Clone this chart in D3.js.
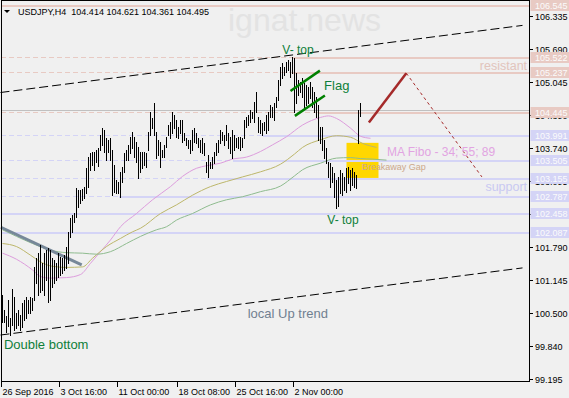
<!DOCTYPE html>
<html>
<head>
<meta charset="utf-8">
<script src="https://cdn.jsdelivr.net/npm/d3@7"></script>
<style>
    html, body { margin: 0; padding: 0; background: #f0f0f0; }
    svg { display: block; font-family: "Liberation Sans", Arial, sans-serif; }
    .axisText { font-size: 9px; }
</style>
</head>
<body>
<script>
'use strict';

// USDJPY H4 bars (one per bar, oldest first)
const barHigh = [
    100.85, 100.55, 100.43, 100.75, 100.39, 100.97, 100.81, 100.49, 100.55, 100.45,
    100.69, 100.75, 100.81, 100.75, 100.81, 100.79, 101.40, 101.57, 101.67, 101.83,
    101.48, 101.67, 101.73, 101.77, 101.73, 101.57, 101.54, 101.48, 101.67, 101.59,
    101.57, 101.63, 101.79, 102.09, 102.36, 102.42, 102.46, 102.95, 102.91, 102.91,
    102.93, 102.97, 103.35, 103.56, 103.64, 103.66, 103.66, 103.70, 103.74, 104.00,
    104.13, 104.09, 103.94, 103.90, 103.94, 103.70, 103.40, 103.11, 103.07, 103.27,
    103.37, 103.64, 103.70, 103.80, 103.96, 104.05, 103.96, 103.86, 103.76, 103.66,
    103.66, 103.66, 103.64, 104.05, 104.45, 104.33, 104.62, 104.05, 103.90, 103.86,
    103.70, 103.80, 103.96, 104.19, 104.25, 104.45, 104.39, 104.29, 104.15, 104.29,
    104.29, 104.03, 103.94, 103.90, 103.90, 104.09, 104.13, 104.03, 103.94, 103.90,
    103.94, 103.84, 103.46, 103.60, 103.46, 103.56, 103.66, 103.84, 103.90, 104.09,
    104.05, 104.00, 104.19, 104.03, 103.96, 104.09, 104.00, 103.94, 103.96, 103.96,
    103.94, 104.29, 104.35, 104.39, 104.49, 104.45, 104.64, 104.84, 104.35, 104.29,
    104.23, 104.25, 104.39, 104.45, 104.59, 104.55, 104.62, 104.74, 105.08, 105.33,
    105.41, 105.33, 105.43, 105.47, 105.43, 105.53, 105.51, 105.21, 105.08, 105.04,
    105.12, 105.02, 104.98, 104.94, 105.04, 104.94, 104.84, 104.74, 104.59, 104.15,
    104.15, 103.90, 103.74, 103.46, 103.44, 103.37, 103.25, 103.11, 103.17, 103.31,
    103.25, 103.17, 103.35, 103.37, 103.31, 103.35, 103.27, 103.21, 104.49, 104.621
];
const barLow = [
    100.32, 100.32, 100.12, 100.24, 100.06, 100.26, 100.16, 100.20, 100.26, 100.16,
    100.22, 100.36, 100.39, 100.49, 100.49, 100.55, 100.75, 101.08, 100.85, 100.91,
    100.95, 100.85, 101.14, 100.71, 100.75, 101.00, 101.08, 101.14, 101.20, 101.24,
    101.28, 101.34, 101.38, 101.48, 101.99, 102.09, 102.28, 102.38, 102.58, 102.66,
    102.72, 102.76, 102.85, 102.97, 103.31, 103.40, 103.31, 103.46, 103.38, 103.70,
    103.80, 103.66, 103.50, 103.66, 103.50, 102.81, 102.87, 102.85, 102.85, 102.78,
    103.07, 103.27, 103.50, 103.50, 103.64, 103.74, 103.56, 103.46, 103.15, 103.27,
    103.35, 103.40, 103.37, 103.70, 104.00, 104.13, 104.00, 103.54, 103.60, 103.37,
    103.56, 103.56, 103.76, 104.00, 103.94, 104.03, 104.13, 103.96, 103.94, 104.03,
    103.86, 103.90, 103.80, 103.74, 103.64, 103.70, 103.86, 103.84, 103.76, 103.66,
    103.64, 103.60, 103.27, 103.17, 103.35, 103.35, 103.44, 103.60, 103.66, 103.84,
    103.90, 103.80, 103.90, 103.74, 103.64, 103.54, 103.70, 103.76, 103.74, 103.70,
    103.76, 103.94, 104.15, 104.19, 104.25, 104.33, 104.25, 104.45, 104.05, 104.03,
    104.00, 104.09, 104.03, 104.09, 104.35, 104.35, 104.29, 104.55, 104.68, 104.98,
    105.12, 105.17, 105.23, 105.27, 105.14, 105.21, 104.45, 104.62, 104.78, 104.84,
    104.74, 104.55, 104.59, 104.62, 104.72, 104.55, 104.45, 104.35, 103.90, 103.84,
    103.70, 103.54, 103.44, 103.17, 102.97, 103.07, 102.78, 102.56, 102.60, 102.85,
    102.81, 102.91, 102.87, 103.05, 102.91, 103.01, 102.97, 102.95, 103.84, 104.361
];

// moving averages as [bar, price] points
const ma34 = [[0,101.67],[7,101.55],[15,101.34],[19,101.21],[24,101.18],[32,101.19],[39,101.25],[44,101.47],
    [49,101.70],[54,101.93],[59,102.19],[67,102.45],[75,102.72],[84,102.98],[90,103.18],[97,103.34],[102,103.39],
    [109,103.44],[115,103.52],[122,103.56],[129,103.67],[135,103.80],[142,103.96],[150,104.19],[159,104.34],
    [163,104.37],[167,104.32],[174,104.13],[179,103.97],[184,103.93]];
const ma55 = [[0,101.86],[7,101.80],[14,101.63],[19,101.50],[24,101.42],[32,101.39],[40,101.40],[45,101.57],
    [52,101.80],[59,101.96],[65,102.09],[69,102.16],[79,102.45],[87,102.62],[95,102.81],[104,102.98],[112,103.08],
    [120,103.17],[129,103.27],[139,103.42],[146,103.62],[150,103.75],[159,103.90],[167,103.98],[174,103.95],
    [180,103.83],[187,103.75]];
const ma89 = [[0,102.13],[7,102.00],[15,101.86],[24,101.73],[32,101.68],[40,101.67],[47,101.65],[54,101.70],
    [62,101.86],[69,102.00],[77,102.13],[82,102.19],[87,102.32],[95,102.45],[104,102.62],[112,102.72],[120,102.78],
    [129,102.88],[139,102.99],[146,103.19],[150,103.31],[159,103.44],[167,103.54],[174,103.55],[179,103.53],
    [185,103.52],[192,103.50]];

const priceTicks = [106.335, 105.690, 105.045, 104.390, 103.740, 103.095, 102.445, 101.790, 101.145, 100.500, 99.840, 99.195];
const timeLabels = ['26 Sep 2016', '3 Oct 16:00', '11 Oct 00:00', '18 Oct 08:00', '25 Oct 16:00', '2 Nov 00:00'];
const timeLabelBars = [0, 29, 58, 88, 117, 146];

const resistanceLevels = [106.545, 105.522, 105.237, 104.445];
const resistanceFromBar = [0, 145, 145, 158];
const supportLevels = [103.991, 103.505, 103.155, 102.787, 102.458, 102.087];
const supportFromBar = [130, 115, 102, 58, 0, 0];

const currentBid = 104.495;
const headerText = 'USDJPY,H4  104.414 104.621 104.361 104.495';

// drawn objects, as [bar, price] end points
const channelUpper = [[-1, 104.83], [260, 106.15]];
const channelLower = [[-1, 100.06], [260, 101.38]];
const downTrend = [[-0.8, 102.18], [39.6, 101.44]];
const flagUpper = [[144, 104.86], [158.7, 105.26]];
const flagLower = [[146.2, 104.37], [161.2, 104.77]];
const forecastUp = [[183.2, 104.24], [201.9, 105.21]];
const forecastDown = [[201.9, 105.21], [239.7, 103.17]];
const gapBox = [[172, 103.84], [188, 103.15]];

(function () {


    function getPlotArea() {
        return {
            width: 569,
            height: 398,
            left: 1,
            right: 529,
            top: 0,
            bottom: 382
        };
    }


    /**
     * x: bar index, 2 px per bar.  y: price, right axis.
     */
    function makeScales() {
        return {
            x: d3.scaleLinear().domain([0, 263]).range([2.5, 528.5]),
            y: d3.scaleLinear().domain([99.195, 106.335]).range([379, 16])
        };
    }


    function pointLine(scales) {
        return d3.line()
            .x(d => scales.x(d[0]))
            .y(d => scales.y(d[1]));
    }


    function appendWatermark(svg) {
        svg.append('text')
            .attr('x', 228)
            .attr('y', 31)
            .attr('font-size', 32)
            .attr('fill', '#e3e3e3')
            .text('ignat.news');
    }


    function appendGapBox(svg, scales) {
        svg.append('rect')
            .attr('x', scales.x(gapBox[0][0]))
            .attr('y', scales.y(gapBox[0][1]))
            .attr('width', scales.x(gapBox[1][0]) - scales.x(gapBox[0][0]))
            .attr('height', scales.y(gapBox[1][1]) - scales.y(gapBox[0][1]))
            .attr('fill', '#ffd700');
    }


    /**
     * Each level: thin dashed line from the left edge, then a thick solid ray from its anchor bar.
     */
    function appendLevels(svg, scales, plot, levels, fromBars, color) {
        const g = svg.append('g').attr('shape-rendering', 'crispEdges');
        levels.forEach((lvl, k) => {
            const yy = Math.round(scales.y(lvl)) + 0.5;
            const xs = fromBars[k] === 0 ? plot.left : scales.x(fromBars[k]);
            if (xs > plot.left) {
                g.append('line')
                    .attr('x1', plot.left).attr('x2', xs)
                    .attr('y1', yy).attr('y2', yy)
                    .attr('stroke', color)
                    .attr('stroke-dasharray', '5,3');
            }
            g.append('line')
                .attr('x1', xs).attr('x2', plot.right)
                .attr('y1', yy).attr('y2', yy)
                .attr('stroke', color)
                .attr('stroke-width', 2);
        });
    }


    function appendBidLine(svg, scales, plot) {
        const yy = Math.round(scales.y(currentBid)) + 0.5;
        svg.append('line')
            .attr('x1', plot.left).attr('x2', plot.right)
            .attr('y1', yy).attr('y2', yy)
            .attr('stroke', '#c0c0c0')
            .attr('shape-rendering', 'crispEdges');
    }


    function appendMovingAverages(svg, scales) {
        const line = pointLine(scales).curve(d3.curveMonotoneX);
        [[ma34, '#dd9ddd'], [ma55, '#bdb76b'], [ma89, '#8fbc8f']].forEach(([pts, color]) => {
            svg.append('path')
                .attr('d', line(pts))
                .attr('fill', 'none')
                .attr('stroke', color)
                .attr('stroke-width', 1);
        });
    }


    function appendSegment(svg, scales, pts, color, width, dash) {
        svg.append('path')
            .attr('d', pointLine(scales)(pts))
            .attr('fill', 'none')
            .attr('stroke', color)
            .attr('stroke-width', width)
            .attr('stroke-dasharray', dash || null);
    }


    function appendBars(svg, scales) {
        svg.append('g')
            .attr('shape-rendering', 'crispEdges')
            .selectAll('line')
            .data(barHigh)
            .join('line')
            .attr('x1', (d, i) => scales.x(i))
            .attr('x2', (d, i) => scales.x(i))
            .attr('y1', d => scales.y(d))
            .attr('y2', (d, i) => scales.y(barLow[i]) + 1)
            .attr('stroke', '#000');
    }


    function appendNote(svg, scales, bar, price, text, color, size, anchor) {
        svg.append('text')
            .attr('x', scales.x(bar))
            .attr('y', scales.y(price))
            .attr('fill', color)
            .attr('font-size', size)
            .attr('text-anchor', anchor || 'start')
            .text(text);
    }


    function appendNotes(svg, scales) {
        const green = '#0e7f3a';
        appendNote(svg, scales, 139.9, 105.59, 'V- top', green, 12);
        appendNote(svg, scales, 160.8, 104.88, 'Flag', green, 13);
        appendNote(svg, scales, 162.4, 102.24, 'V- top', green, 12);
        appendNote(svg, scales, 0.7, 99.79, 'Double bottom', green, 13);
        appendNote(svg, scales, 122.6, 100.40, 'local Up trend', '#708090', 13);
        appendNote(svg, scales, 192.3, 103.58, 'MA Fibo - 34; 55; 89', '#e2a4e2', 12);
        appendNote(svg, scales, 179.6, 103.31, 'Breakaway Gap', '#cca88a', 9);
        appendNote(svg, scales, 262.3, 105.27, 'resistant', '#e2c4bc', 12.5, 'end');
        appendNote(svg, scales, 262.3, 102.89, 'support', '#c9c9f2', 12.5, 'end');
    }


    function appendFrame(svg, plot) {
        svg.append('rect')
            .attr('x', plot.left + 0.5)
            .attr('y', plot.top + 0.5)
            .attr('width', plot.right - plot.left)
            .attr('height', plot.bottom - plot.top - 1)
            .attr('fill', 'none')
            .attr('stroke', '#000')
            .attr('shape-rendering', 'crispEdges');
    }


    function appendPriceAxis(svg, scales, plot) {
        const g = svg.append('g').attr('shape-rendering', 'crispEdges');
        priceTicks.forEach(p => {
            const yy = Math.round(scales.y(p)) + 0.5;
            g.append('line')
                .attr('x1', plot.right).attr('x2', plot.right + 4)
                .attr('y1', yy).attr('y2', yy)
                .attr('stroke', '#000');
            g.append('text')
                .attr('class', 'axisText')
                .attr('x', plot.right + 6)
                .attr('y', yy + 3.5)
                .attr('fill', '#000')
                .text(p.toFixed(3));
        });
    }


    function appendLevelTags(svg, scales, plot, levels, color) {
        levels.forEach(lvl => {
            const yy = scales.y(lvl);
            svg.append('rect')
                .attr('x', plot.right + 1.5)
                .attr('y', Math.round(yy) - 5)
                .attr('width', 40)
                .attr('height', 11)
                .attr('fill', color);
            svg.append('text')
                .attr('class', 'axisText')
                .attr('x', plot.right + 6)
                .attr('y', Math.round(yy) + 4)
                .attr('fill', '#fbfbfb')
                .text(lvl.toFixed(3));
        });
    }


    function appendTimeAxis(svg, scales, plot) {
        const g = svg.append('g').attr('shape-rendering', 'crispEdges');
        timeLabelBars.forEach((b, k) => {
            const xx = Math.floor(scales.x(b)) - 0.5;
            g.append('line')
                .attr('x1', xx).attr('x2', xx)
                .attr('y1', plot.bottom).attr('y2', plot.bottom + 5)
                .attr('stroke', '#000');
            g.append('text')
                .attr('class', 'axisText')
                .attr('x', xx + 1)
                .attr('y', plot.bottom + 13)
                .attr('fill', '#000')
                .text(timeLabels[k]);
        });
    }


    function appendHeader(svg) {
        svg.append('path')
            .attr('d', 'M4,10 L10,10 L7,13 Z')
            .attr('fill', '#000');
        svg.append('text')
            .attr('class', 'axisText')
            .attr('x', 18)
            .attr('y', 15)
            .attr('fill', '#000')
            .style('white-space', 'pre')
            .text(headerText);
    }


    function draw() {
        const plot = getPlotArea();
        const scales = makeScales();
        const svg = d3.select('body').append('svg')
            .attr('width', plot.width)
            .attr('height', plot.height);
        svg.append('rect').attr('width', plot.width).attr('height', plot.height).attr('fill', '#f0f0f0');

        appendWatermark(svg);
        appendGapBox(svg, scales);
        appendLevels(svg, scales, plot, resistanceLevels, resistanceFromBar, '#e8cac3');
        appendLevels(svg, scales, plot, supportLevels, supportFromBar, '#d4d4f6');
        appendBidLine(svg, scales, plot);
        appendMovingAverages(svg, scales);
        appendSegment(svg, scales, channelUpper, '#000', 1, '9,4');
        appendSegment(svg, scales, channelLower, '#000', 1, '9,4');
        appendSegment(svg, scales, downTrend, '#778899', 3);
        appendBars(svg, scales);
        appendSegment(svg, scales, flagUpper, '#008000', 2.5);
        appendSegment(svg, scales, flagLower, '#008000', 2.5);
        appendSegment(svg, scales, forecastUp, '#a52a2a', 2.5);
        appendSegment(svg, scales, forecastDown, '#a52a2a', 1, '3,3');
        appendNotes(svg, scales);
        appendFrame(svg, plot);
        appendPriceAxis(svg, scales, plot);
        appendLevelTags(svg, scales, plot, resistanceLevels, '#e8cac3');
        appendLevelTags(svg, scales, plot, supportLevels, '#d4d4f6');
        appendTimeAxis(svg, scales, plot);
        appendHeader(svg);
    }


    window.onload = draw;


})();
</script>
</body>
</html>
